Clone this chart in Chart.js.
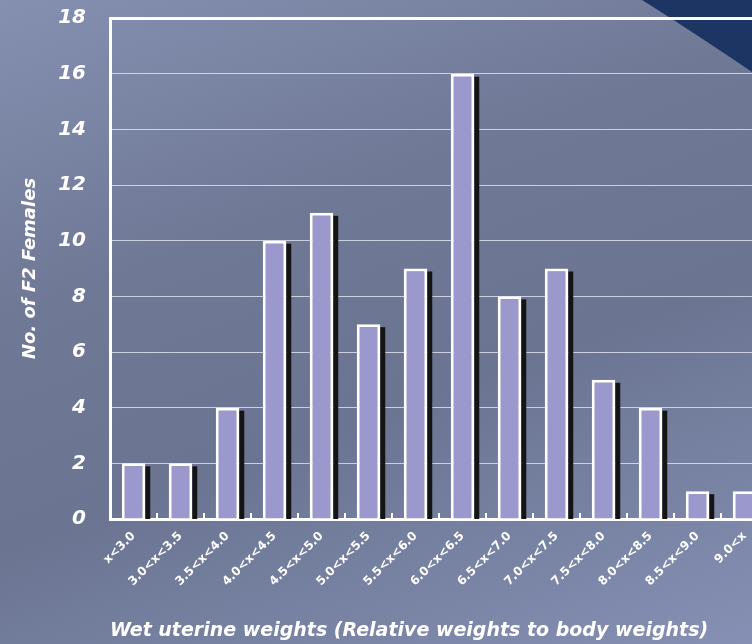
<!DOCTYPE html>
<html>
<head>
<meta charset="utf-8">
<script src="https://cdn.jsdelivr.net/npm/chart.js@4.4.1/dist/chart.umd.min.js"></script>
<style>
  html, body { margin: 0; padding: 0; }
  body {
    width: 752px; height: 644px; overflow: hidden;
    background: linear-gradient(160deg, #858fb0 0%, #6f7996 35%, #6b7592 60%, #8590b4 100%);
  }
  #wrap { width: 780px; height: 662px; margin-top: -18px; }
</style>
</head>
<body>
<div id="wrap"><canvas id="chart" width="780" height="662"></canvas></div>
<script>
// weight classes (relative wet uterine weight)
const categories = ['x<3.0', '3.0<x<3.5', '3.5<x<4.0', '4.0<x<4.5', '4.5<x<5.0', '5.0<x<5.5', '5.5<x<6.0',
                    '6.0<x<6.5', '6.5<x<7.0', '7.0<x<7.5', '7.5<x<8.0', '8.0<x<8.5', '8.5<x<9.0', '9.0<x'];
const females = [2, 2, 4, 10, 11, 7, 9, 16, 8, 9, 5, 4, 1, 1];
const yMin = 0, yMax = 18, yStep = 2;

const FONT = '"DejaVu Sans", sans-serif';
const SHIFT = 18; // canvas is pulled up by this much in the page

// navy corner decoration + bar drop shadows + small inward ticks on x axis
const decoPlugin = {
    id: 'deco',
    beforeDraw(chart) {
        const c = chart.ctx;
        c.save();
        c.fillStyle = '#1c3562';
        c.beginPath();
        c.moveTo(642, SHIFT);
        c.quadraticCurveTo(690, SHIFT + 30, 752, SHIFT + 72);
        c.lineTo(800, SHIFT + 72);
        c.lineTo(800, 0);
        c.lineTo(642, 0);
        c.closePath();
        c.fill();
        c.restore();
    },
    beforeDatasetsDraw(chart) {
        const c = chart.ctx;
        const meta = chart.getDatasetMeta(0);
        const base = chart.scales.y.getPixelForValue(0);
        c.save();
        c.fillStyle = '#141414';
        meta.data.forEach(bar => {
            const right = bar.x + bar.width / 2;
            c.fillRect(right, bar.y + 3, 5, base - bar.y - 3);
        });
        // inner tick marks between categories
        const x = chart.scales.x;
        const half = (x.getPixelForValue(1) - x.getPixelForValue(0)) / 2;
        c.strokeStyle = '#ffffff';
        c.lineWidth = 2;
        for (let i = 0; i < categories.length; i++) {
            const px = x.getPixelForValue(i) + half;
            c.beginPath();
            c.moveTo(px, base);
            c.lineTo(px, base - 6);
            c.stroke();
        }
        c.restore();
    }
};

new Chart(document.getElementById('chart'), {
    type: 'bar',
    data: {
        labels: categories,
        datasets: [{
            data: females,
            backgroundColor: '#9a98cc',
            borderColor: '#ffffff',
            borderWidth: 3,
            borderSkipped: 'bottom',
            categoryPercentage: 1,
            barPercentage: 0.5
        }]
    },
    plugins: [decoPlugin],
    options: {
        responsive: false,
        animation: false,
        layout: { padding: { top: 8, right: 12, left: 0, bottom: 0 } },
        plugins: { legend: { display: false }, tooltip: { enabled: false } },
        scales: {
            x: {
                grid: { display: false },
                border: { color: '#ffffff', width: 3 },
                ticks: {
                    color: '#ffffff',
                    font: { family: FONT, size: 12, weight: 'bold' },
                    minRotation: 45, maxRotation: 45,
                    padding: 2,
                    autoSkip: false
                },
                title: {
                    display: true,
                    align: 'start',
                    text: 'Wet uterine weights (Relative weights to body weights)',
                    color: '#ffffff',
                    font: { family: FONT, size: 19, weight: 'bold', style: 'italic' },
                    padding: { top: 0, bottom: 2 }
                },
                afterFit(scale) { scale.height = 125; }
            },
            y: {
                min: yMin, max: yMax,
                ticks: {
                    stepSize: yStep,
                    color: '#ffffff',
                    padding: 24,
                    font: { family: FONT, size: 20, weight: 'bold', style: 'italic' }
                },
                grid: {
                    color: ctx => (ctx.tick && ctx.tick.value === yMax) ? '#ffffff' : 'rgba(235,238,250,0.75)',
                    lineWidth: ctx => (ctx.tick && ctx.tick.value === yMax) ? 3 : 1,
                    drawTicks: false
                },
                border: { color: '#ffffff', width: 3 },
                title: {
                    display: true,
                    text: 'No. of F2 Females',
                    color: '#ffffff',
                    font: { family: FONT, size: 18, weight: 'bold', style: 'italic' },
                    padding: { top: 20, bottom: 0 }
                },
                afterFit(scale) { scale.width = 110; }
            }
        }
    }
});
</script>
</body>
</html>
